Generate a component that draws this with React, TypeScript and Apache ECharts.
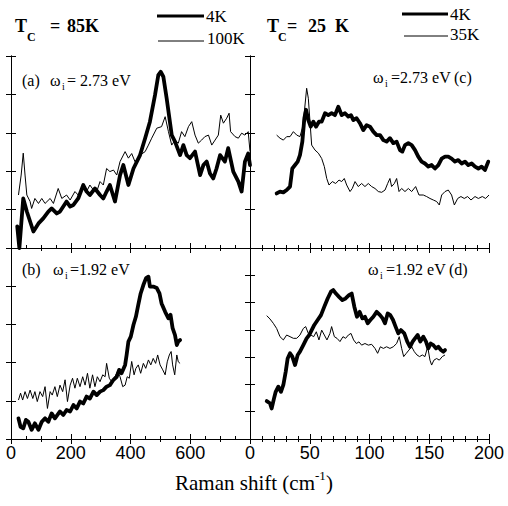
import React, { useEffect, useRef } from "react";
import * as echarts from "echarts";

// Tick labels
const leftXLabels = [0, 200, 400, 600];
const rightXLabels = [0, 50, 100, 150, 200];

// Panel (a): omega_i = 2.73 eV, Tc = 85K  [Raman shift, intensity]
const aThick4K = [
  [21, 0.56], [28, 0.0], [41, 1.29], [53, 0.95], [75, 0.43], [92, 0.64], [108, 0.77], [125, 0.95],
  [136, 1.03], [153, 0.9], [164, 0.95], [186, 1.21], [198, 1.08], [209, 1.12], [225, 1.29], [242, 1.64],
  [253, 1.47], [264, 1.38], [281, 1.55], [298, 1.38], [309, 1.29], [320, 1.47], [331, 1.64], [348, 1.21],
  [365, 1.9], [376, 2.16], [393, 1.64], [410, 2.07], [432, 2.42], [449, 2.86], [465, 3.29], [482, 3.98],
  [493, 4.5], [501, 4.59], [510, 4.46], [521, 3.9], [538, 2.94], [549, 2.77], [566, 2.42], [577, 2.68],
  [588, 2.42], [599, 2.34], [616, 2.51], [633, 1.9], [644, 2.16], [655, 2.25], [666, 1.94], [677, 1.81],
  [688, 2.07], [700, 2.42], [716, 2.25], [727, 2.6], [744, 1.99], [761, 1.73], [772, 1.47], [783, 2.25],
  [794, 2.46], [800, 2.16],
];
const aThin100K = [
  [25, 1.38], [34, 1.9], [41, 2.47], [47, 1.9], [53, 1.38], [64, 1.21], [69, 1.03], [80, 1.29],
  [92, 1.16], [103, 1.29], [114, 1.16], [131, 1.29], [142, 1.16], [158, 1.55], [170, 1.29], [186, 1.38],
  [198, 1.25], [214, 1.47], [225, 1.38], [242, 1.55], [253, 1.47], [264, 1.64], [276, 1.51], [287, 1.47],
  [298, 1.73], [309, 1.64], [320, 2.07], [331, 1.99], [343, 2.03], [354, 1.9], [365, 2.25], [382, 2.51],
  [393, 2.34], [404, 2.46], [415, 2.25], [432, 2.42], [449, 2.51], [460, 2.68], [471, 2.86], [488, 3.12],
  [504, 3.16], [516, 3.42], [527, 3.03], [538, 2.68], [549, 2.81], [560, 2.73], [571, 3.03], [582, 2.9],
  [594, 3.16], [605, 3.29], [616, 2.94], [627, 2.73], [638, 2.81], [649, 2.9], [661, 2.94], [672, 2.68],
  [683, 2.81], [694, 2.94], [702, 3.46], [711, 3.25], [722, 3.38], [730, 3.51], [735, 3.03], [750, 2.9],
  [761, 2.86], [772, 2.99], [783, 2.94], [794, 3.03], [800, 2.51],
];

// Panel (b): omega_i = 1.92 eV, Tc = 85K
const bThick4K = [
  [25, 0.54], [32, 0.32], [41, 0.28], [50, 0.5], [58, 0.45], [69, 0.24], [80, 0.41], [92, 0.24],
  [103, 0.45], [114, 0.54], [125, 0.45], [136, 0.67], [147, 0.54], [164, 0.72], [175, 0.63], [186, 0.76],
  [198, 0.72], [209, 0.89], [220, 0.8], [231, 0.98], [242, 0.93], [253, 1.11], [264, 1.06], [276, 1.24],
  [287, 1.15], [298, 1.24], [309, 1.28], [320, 1.37], [331, 1.41], [343, 1.55], [354, 1.63], [362, 1.81],
  [370, 1.72], [382, 1.94], [387, 2.2], [393, 2.55], [401, 2.68], [410, 2.99], [418, 3.2], [426, 3.51],
  [434, 3.81], [443, 4.03], [452, 4.21], [460, 4.25], [465, 3.99], [476, 3.99], [488, 3.95], [497, 3.81],
  [504, 3.55], [516, 3.33], [527, 3.16], [534, 3.25], [541, 2.9], [549, 2.72], [555, 2.46], [560, 2.55],
  [566, 2.59],
];
const bThin100K = [
  [25, 1.02], [32, 1.2], [39, 1.02], [47, 1.24], [55, 1.06], [64, 1.28], [73, 1.06], [80, 1.24],
  [88, 0.98], [97, 1.24], [106, 1.11], [114, 1.37], [122, 0.8], [131, 1.24], [138, 1.15], [147, 1.37],
  [155, 1.11], [164, 1.41], [173, 1.24], [181, 1.55], [189, 0.98], [198, 1.41], [206, 1.59], [214, 1.33],
  [222, 1.59], [231, 1.37], [240, 1.63], [248, 1.41], [256, 1.72], [264, 1.33], [273, 1.68], [281, 1.37],
  [289, 1.63], [298, 1.5], [307, 1.68], [315, 1.63], [320, 1.98], [329, 1.59], [337, 1.5], [348, 1.63],
  [356, 1.76], [365, 1.63], [374, 1.37], [382, 1.41], [389, 1.63], [396, 1.59], [404, 2.03], [412, 1.68],
  [418, 1.85], [426, 1.94], [434, 1.72], [443, 1.98], [451, 1.85], [460, 2.07], [468, 1.94], [476, 2.11],
  [484, 1.98], [491, 2.2], [499, 1.94], [508, 1.81], [516, 1.68], [523, 2.02], [530, 2.2], [536, 2.29],
  [541, 1.94], [548, 1.68], [555, 2.2], [560, 2.02], [566, 1.98],
];

// Panel (c): omega_i = 2.73 eV, Tc = 25K
const cThick4K = [
  [22.3, 1.42], [25.1, 1.47], [27.9, 1.45], [30.7, 1.51], [33.5, 1.6], [35.4, 2.07], [37.7, 2.16], [39.9, 2.25],
  [41.8, 2.42], [43.8, 2.77], [45.5, 3.38], [46.9, 3.6], [48.8, 3.33], [50.8, 3.16], [53, 3.29], [55.2, 3.16],
  [57.7, 3.29], [60, 3.29], [62.8, 3.51], [65.5, 3.46], [68.3, 3.51], [71.1, 3.46], [73.9, 3.68], [76.7, 3.46],
  [79.5, 3.51], [82.3, 3.42], [84.5, 3.46], [86.5, 3.33], [89.2, 3.38], [92, 3.25], [94.8, 3.07], [97.6, 3.2],
  [100.4, 3.16], [103.2, 3.03], [106, 2.94], [108.8, 2.94], [111.6, 2.81], [114.3, 2.77], [117.1, 2.86],
  [119.9, 2.73], [122.7, 2.77], [125.5, 2.55], [127.5, 2.51], [129.7, 2.68], [132.5, 2.73], [135.3, 2.68],
  [138.1, 2.55], [140.8, 2.38], [143.6, 2.25], [146.4, 2.2], [149.2, 2.12], [152, 2.16], [154.8, 2.07],
  [157.6, 2.16], [160.4, 2.33], [163.2, 2.38], [165.9, 2.38], [168.7, 2.33], [171.5, 2.25], [174.3, 2.29],
  [177.1, 2.2], [179.9, 2.25], [182.7, 2.16], [185.5, 2.2], [188.3, 2.12], [191.1, 2.07], [193.8, 2.12],
  [196.6, 2.03], [199.4, 2.25],
];
const cThin35K = [
  [22.3, 2.94], [25.1, 2.86], [27.9, 2.81], [30.7, 2.9], [33.5, 2.9], [36.3, 3.03], [39.1, 2.94], [41.8, 2.9],
  [43.8, 3.12], [45.5, 3.55], [47.4, 4.16], [48.8, 3.9], [50.2, 3.29], [51.6, 2.68], [54.4, 2.55], [57.2, 2.47],
  [60, 2.33], [62.2, 2.12], [64.2, 1.81], [66.1, 1.64], [68.9, 1.73], [71.7, 1.68], [74.5, 1.77], [76.7, 1.73],
  [78.9, 1.81], [80.9, 1.64], [83.7, 1.47], [85.6, 1.55], [87.9, 1.73], [90.6, 1.6], [93.4, 1.68], [96.2, 1.6],
  [99, 1.68], [101.8, 1.6], [104.6, 1.55], [107.4, 1.47], [110.2, 1.45], [113, 1.51], [115.2, 1.68],
  [117.1, 1.81], [118.5, 1.6], [120.8, 1.68], [122.7, 1.81], [124.7, 1.47], [126.9, 1.55], [129.7, 1.47],
  [132.5, 1.55], [135.3, 1.47], [138.6, 1.6], [141.4, 1.38], [145, 1.38], [147.8, 1.34], [150.6, 1.29],
  [153.4, 1.25], [156.2, 1.21], [158.4, 1.12], [160.4, 1.38], [163.2, 1.47], [165.9, 1.51], [168.7, 1.38],
  [171, 1.12], [173.8, 1.29], [176.5, 1.34], [179.3, 1.29], [182.1, 1.34], [184.9, 1.25], [188.3, 1.34],
  [191.1, 1.29], [194.4, 1.34], [197.2, 1.29], [200, 1.38],
];

// Panel (d): omega_i = 1.92 eV, Tc = 25K
const dThick4K = [
  [14, 1.39], [16.7, 1.31], [18.1, 1.12], [20.1, 1.49], [21.5, 1.73], [23.7, 1.92], [25.9, 1.73], [27.9, 1.98],
  [29.9, 2.47], [31.5, 2.95], [33.5, 3.14], [35.4, 3.02], [37.7, 2.71], [39.9, 3.08], [41.8, 3.2], [44.6, 3.44],
  [47.4, 3.69], [49.6, 3.81], [51.6, 3.99], [53.8, 4.18], [56.6, 4.36], [59.4, 4.54], [62.2, 4.85], [65, 5.15],
  [67.8, 5.4], [69.7, 5.46], [71.9, 5.33], [74.5, 5.21], [77.3, 5.09], [80, 5.15], [82.8, 5.27], [85.1, 5.33],
  [87.3, 4.85], [89.5, 4.48], [91.8, 4.66], [94, 4.42], [96.2, 4.48], [98.5, 4.24], [100.7, 4.36], [103.2, 4.48],
  [106, 4.66], [108.8, 4.54], [111, 4.42], [113, 4.24], [115.2, 4.6], [117.4, 4.54], [119.7, 4.36], [121.9, 4.11],
  [124.1, 3.87], [126.3, 3.99], [129.1, 3.87], [131.6, 3.57], [133.9, 3.38], [136.1, 3.57], [138.1, 3.69],
  [140.3, 3.81], [142.5, 3.57], [145, 3.75], [147.3, 3.57], [149.2, 3.32], [151.2, 3.5], [153.4, 3.44],
  [155.6, 3.32], [157.6, 3.38], [159.8, 3.26], [161.8, 3.2], [163.2, 3.26],
];
const dThin35K = [
  [14, 4.52], [16.7, 4.4], [19.5, 4.24], [22.3, 4.05], [25.1, 3.75], [27.9, 3.63], [30.7, 3.81], [33.5, 3.75],
  [36.3, 3.69], [39.1, 3.69], [41.8, 3.81], [44.6, 4.05], [46.6, 4.12], [48.8, 3.87], [51, 3.81], [53.3, 3.75],
  [55.5, 3.93], [57.7, 3.63], [60, 3.99], [62.2, 3.81], [64.4, 3.63], [66.9, 3.87], [68.3, 4.12], [70.6, 3.75],
  [72.8, 3.69], [75.3, 3.57], [77.8, 3.75], [80, 3.69], [82.3, 3.81], [84.5, 3.87], [86.7, 3.63], [89, 3.5],
  [91.2, 3.56], [93.4, 3.44], [96.2, 3.5], [99, 3.44], [101.8, 3.47], [104.6, 3.32], [106.8, 3.14], [109.1, 3.38],
  [111.6, 3.32], [114.3, 3.38], [117.1, 3.32], [119.9, 3.38], [122.7, 3.5], [124.9, 3.75], [126.9, 3.32],
  [128.6, 3.02], [130.8, 3.14], [133, 3.26], [135.3, 3.38], [137.5, 3.2], [139.7, 3.08], [141.9, 3.02],
  [144.2, 3.08], [146.4, 3.02], [148.7, 3.38], [150.6, 2.89], [152, 2.71], [153.9, 2.89], [156.2, 2.95],
  [158.4, 2.89], [160.9, 3.02], [163.2, 3.08],
];

const SERIF = '"Liberation Serif", "Times New Roman", serif';
const SANS = '"Liberation Sans", Arial, sans-serif';

// panels: a, c, b, d
const panels = [
  { left: 11, top: 56, height: 192, wide: true, ymax: 5, labels: false, thick: aThick4K, thin: aThin100K },
  { left: 250, top: 56, height: 192, wide: false, ymax: 5, labels: false, thick: cThick4K, thin: cThin35K },
  { left: 11, top: 248, height: 191, wide: true, ymax: 5, labels: true, thick: bThick4K, thin: bThin100K },
  { left: 250, top: 248, height: 191, wide: false, ymax: 7, labels: true, thick: dThick4K, thin: dThin35K },
];

function txt(text: string, x: number, y: number, size: number, opts: any = {}) {
  return {
    type: "text",
    x,
    y,
    z: 100,
    style: {
      text,
      fontSize: size,
      fontFamily: opts.family || SERIF,
      fontWeight: opts.bold ? "bold" : "normal",
      fill: "#000",
      textAlign: "left",
      textVerticalAlign: "middle",
      align: "left",
      verticalAlign: "middle",
    },
  };
}

function ln(x1: number, x2: number, y: number, w: number) {
  return {
    type: "line",
    z: 100,
    shape: { x1, y1: y, x2, y2: y },
    style: { stroke: "#000", lineWidth: w },
  };
}

export default function App() {
  const ref = useRef<HTMLDivElement>(null);
  useEffect(() => {
    if (!ref.current) return;
    const chart = echarts.init(ref.current, null, { renderer: "svg" });
    const black = { color: "#000", width: 1 };
    const grid: any[] = [];
    const xAxis: any[] = [];
    const yAxis: any[] = [];
    const series: any[] = [];
    panels.forEach((p, i) => {
      grid.push({ left: p.left, top: p.top, width: 239, height: p.height, outerBoundsMode: "none", containLabel: false });
      const max = p.wide ? 800 : 200;
      const interval = p.wide ? 200 : 50;
      const labelList = p.wide ? leftXLabels : rightXLabels;
      const baseX = {
        type: "value",
        gridIndex: i,
        min: 0,
        max,
        interval,
        axisLine: { show: true, lineStyle: black },
        axisTick: { show: true, inside: true, length: 5, lineStyle: black },
        splitLine: { show: false },
        minorSplitLine: { show: false },
      };
      xAxis.push({
        ...baseX,
        position: "bottom",
        minorTick: { show: true, splitNumber: p.wide ? 4 : 5, length: 3, lineStyle: black },
        axisLabel: {
          show: p.labels,
          margin: 5,
          fontSize: 18,
          fontFamily: SANS,
          color: "#000",
          showMinLabel: p.wide,
          showMaxLabel: !p.wide,
          hideOverlap: false,
          formatter: (v: number) => (labelList.includes(v) ? String(v) : ""),
        },
      });
      xAxis.push({
        ...baseX,
        position: "top",
        minorTick: { show: true, splitNumber: p.wide ? 2 : 5, length: 3, lineStyle: black },
        axisLabel: { show: false },
      });
      const baseY = {
        type: "value",
        gridIndex: i,
        min: 0,
        max: p.ymax,
        interval: 1,
        axisLine: { show: true, lineStyle: black },
        axisTick: { show: true, inside: true, length: 5, lineStyle: black },
        axisLabel: { show: false },
        splitLine: { show: false },
      };
      yAxis.push({ ...baseY, position: "left" });
      yAxis.push({ ...baseY, position: "right" });
      series.push({
        type: "line",
        xAxisIndex: i * 2,
        yAxisIndex: i * 2,
        data: p.thin,
        showSymbol: false,
        symbol: "none",
        lineStyle: { color: "#000", width: 1, join: "round" },
      });
      series.push({
        type: "line",
        xAxisIndex: i * 2,
        yAxisIndex: i * 2,
        data: p.thick,
        showSymbol: false,
        symbol: "none",
        lineStyle: { color: "#000", width: 3.8, join: "round", cap: "round" },
      });
    });

    const graphic: any[] = [
      // header left
      txt("T", 15, 26, 18, { bold: true }),
      txt("C", 27, 37, 12, { bold: true }),
      txt("=", 50, 26, 18, { bold: true }),
      txt("85K", 67, 26, 18, { bold: true }),
      // legend left
      ln(157, 204, 16, 3),
      txt("4K", 206, 16, 17),
      ln(158, 204, 41, 1),
      txt("100K", 207, 38, 17),
      // header right
      txt("T", 267, 26, 18, { bold: true }),
      txt("C", 278, 37, 12, { bold: true }),
      txt("=", 287, 26, 18, { bold: true }),
      txt("25", 308, 26, 18, { bold: true }),
      txt("K", 335, 26, 18, { bold: true }),
      // legend right
      ln(402, 448, 14, 3),
      txt("4K", 450, 14, 17),
      ln(404, 448, 36, 1),
      txt("35K", 450, 34, 17),
      // panel a
      txt("(a)", 22, 80, 16),
      txt("ω", 50, 80, 16),
      txt("i", 62, 86, 10),
      txt("= 2.73 eV", 67, 80, 16),
      // panel c
      txt("ω", 373, 77, 16),
      txt("i", 385, 83, 10),
      txt("=2.73 eV", 391, 77, 16),
      txt("(c)", 454, 77, 16),
      // panel b
      txt("(b)", 22, 269, 16),
      txt("ω", 53, 269, 16),
      txt("i", 65, 275, 10),
      txt("=1.92 eV", 70, 269, 16),
      // panel d
      txt("ω", 368, 269, 16),
      txt("i", 380, 275, 10),
      txt("=1.92 eV", 386, 269, 16),
      txt("(d)", 449, 269, 16),
      // axis title
      txt("Raman shift (cm", 175, 483, 21),
      txt("-1", 315, 475, 13),
      txt(")", 326, 483, 21),
      // right panel's first tick label at the shared corner
      {
        type: "text",
        left: 245,
        top: 444,
        z: 110,
        style: {
          text: rightXLabels[0] + "",
          font: '18px "Liberation Sans", Arial, sans-serif',
          fill: "#000",
        },
      },
    ];

    chart.setOption({
      animation: false,
      backgroundColor: "#fff",
      grid,
      xAxis,
      yAxis,
      series,
      graphic,
    });
    return () => chart.dispose();
  }, []);
  return (
    <div
      ref={ref}
      style={{ position: "fixed", left: 0, top: 0, width: 508, height: 506, background: "#fff" }}
    />
  );
}
